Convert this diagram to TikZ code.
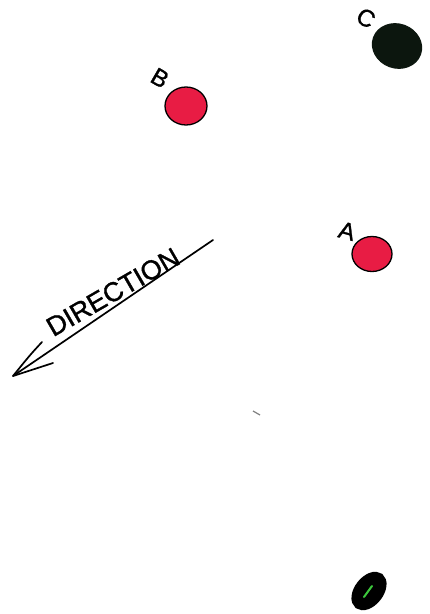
\documentclass[tikz,border=0pt]{standalone}
\usepackage{fontspec}
\setmainfont{Liberation Sans}
\newfontfamily\handfont[FakeBold=1.2]{Liberation Sans}
\usetikzlibrary{shapes.geometric}
\definecolor{dotred}{RGB}{232,28,68}
\definecolor{dotblack}{RGB}{12,22,14}
\definecolor{slitgreen}{RGB}{60,200,60}
\tikzset{
  reddot/.style={ellipse, draw=black, line width=1.3pt, fill=dotred, inner sep=0pt},
  blackdot/.style={ellipse, draw=dotblack, line width=1pt, fill=dotblack, inner sep=0pt},
  lbl/.style={font=\handfont\fontsize{24}{24}\selectfont, inner sep=0pt},
  pen/.style={line width=1.7pt, line cap=round, line join=round}
}
\begin{document}
\begin{tikzpicture}[x=1pt,y=-1pt]
\useasboundingbox (0,0) rectangle (430,614);
% dots
\node[blackdot, minimum width=50pt, minimum height=44pt, rotate=-20] (c) at (397,46) {};
\node[lbl, rotate=-30] (clbl) at (366,18) {C};
\node[reddot, minimum width=42pt, minimum height=38pt] (b) at (186,106) {};
\node[lbl, rotate=-30] (blbl) at (160,78) {B};
\node[reddot, minimum width=40pt, minimum height=35pt] (a) at (372,254) {};
\node[lbl, rotate=-15] (albl) at (347,231) {A};
% direction arrow
\coordinate (arrowstart) at (213,240);
\coordinate (arrowtip) at (13,376);
\coordinate (barbup) at (42,342);
\coordinate (barblow) at (53,363);
\draw[pen] (arrowstart) -- (arrowtip);
\draw[pen] (barbup) .. controls (30,355) .. (arrowtip) -- (barblow);
\node[font=\handfont\fontsize{27}{27}\selectfont, rotate=30, inner sep=0pt] (dir) at (113,292) {DIRECTION};
% small mark
\coordinate (tick1) at (253,411);
\coordinate (tick2) at (260,415);
\draw[gray, line width=1.2pt] (tick1) -- (tick2);
% small ring
\node[ellipse, draw=black, line width=7pt, fill=black, minimum width=36pt, minimum height=22pt, inner sep=0pt, rotate=52] (ring) at (369,591) {};
\coordinate (slit1) at (364,597);
\coordinate (slit2) at (372,586);
\draw[slitgreen, line width=2pt, line cap=round] (slit1) -- (slit2);
\end{tikzpicture}
\end{document}
